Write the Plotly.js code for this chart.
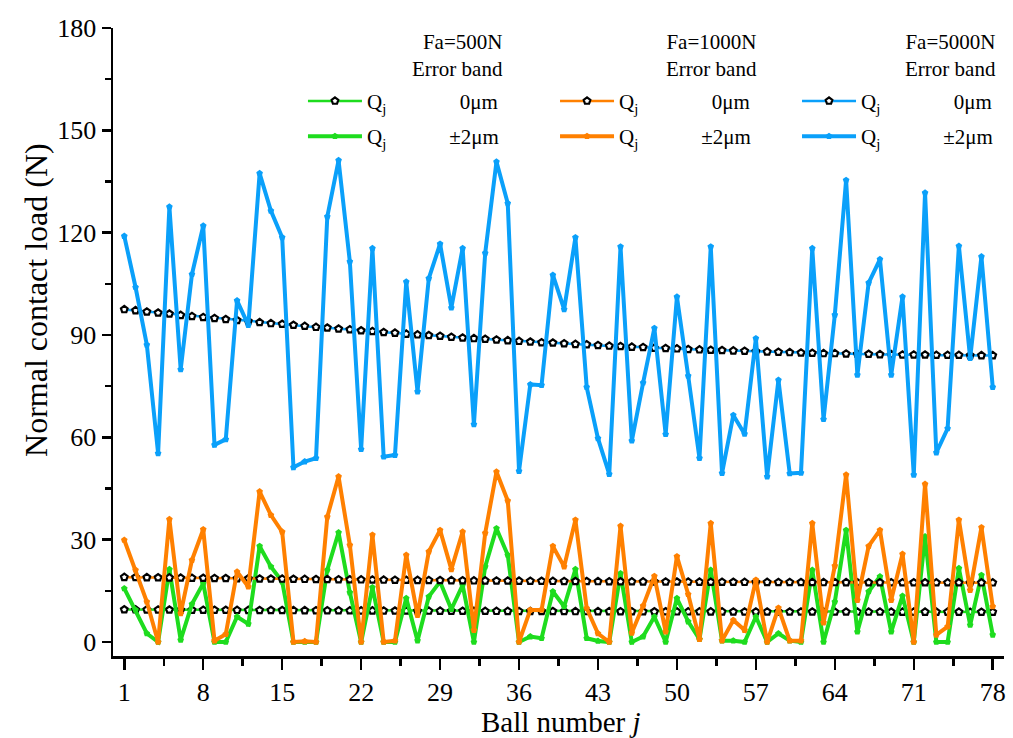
<!DOCTYPE html>
<html>
<head>
<meta charset="utf-8">
<script src="https://cdn.plot.ly/plotly-3.0.1.min.js"></script>
<style>
  html, body { margin: 0; padding: 0; background: #fff; }
  #chart { width: 1013px; height: 738px; }
</style>
</head>
<body>
<div id="chart"></div>
<script>
// Ball index j around the bearing
const balls = [1,2,3,4,5,6,7,8,9,10,11,12,13,14,15,16,17,18,19,20,
  21,22,23,24,25,26,27,28,29,30,31,32,33,34,35,36,37,38,39,40,
  41,42,43,44,45,46,47,48,49,50,51,52,53,54,55,56,57,58,59,60,
  61,62,63,64,65,66,67,68,69,70,71,72,73,74,75,76,77,78];

// Normal contact load Q_j (N), ideal balls (0 µm)
const q500_0 = [9.50,9.49,9.47,9.45,9.43,9.41,9.40,9.38,9.37,9.35,9.34,9.32,9.30,9.29,9.28,9.26,9.25,9.23,9.22,9.21,
  9.20,9.18,9.17,9.15,9.14,9.13,9.12,9.11,9.10,9.08,9.07,9.06,9.05,9.04,9.03,9.02,9.01,9.00,8.99,8.98,
  8.97,8.97,8.96,8.95,8.94,8.93,8.92,8.91,8.91,8.90,8.89,8.89,8.88,8.88,8.87,8.87,8.86,8.86,8.85,8.85,
  8.84,8.84,8.83,8.83,8.83,8.82,8.82,8.82,8.82,8.81,8.81,8.81,8.81,8.81,8.81,8.80,8.80,8.80];
const q1000_0 = [19.00,18.96,18.92,18.88,18.85,18.80,18.76,18.73,18.69,18.66,18.62,18.59,18.55,18.51,18.49,18.45,18.42,18.38,18.36,18.32,
  18.30,18.27,18.24,18.21,18.18,18.15,18.12,18.10,18.08,18.04,18.02,17.99,17.97,17.95,17.92,17.90,17.87,17.85,17.84,17.81,
  17.79,17.78,17.76,17.73,17.72,17.70,17.68,17.66,17.65,17.64,17.61,17.60,17.59,17.58,17.57,17.55,17.54,17.53,17.52,17.51,
  17.49,17.48,17.47,17.47,17.46,17.45,17.45,17.44,17.44,17.42,17.42,17.42,17.41,17.41,17.41,17.40,17.40,17.40];
const q5000_0 = [97.5,97.2,96.8,96.5,96.2,95.8,95.5,95.2,94.9,94.6,94.3,94.0,93.7,93.4,93.2,92.9,92.6,92.3,92.1,91.8,
  91.6,91.3,91.1,90.8,90.6,90.3,90.1,89.9,89.7,89.4,89.2,89.0,88.8,88.6,88.4,88.2,88.0,87.8,87.7,87.5,
  87.3,87.2,87.0,86.8,86.7,86.5,86.4,86.2,86.1,86.0,85.8,85.7,85.6,85.5,85.4,85.3,85.2,85.1,85.0,84.9,
  84.8,84.7,84.6,84.6,84.5,84.4,84.4,84.3,84.3,84.2,84.2,84.2,84.1,84.1,84.1,84.0,84.0,84.0];

// Normal contact load Q_j (N), ball diameter error band ±2 µm
const q500_2 = [15.7,9.4,2.5,0,21.3,0.6,11.1,17.2,0,0,7.4,5.3,28.1,22.1,17.7,0,0,0,21.1,32.1,
  14.5,0,16.0,0,0,12.8,0.4,13.3,17.7,9.6,16.7,0,22.1,33.3,25.5,0,1.6,1.1,14.8,10.4,
  21.3,1.1,0.3,0,20.1,0,1.6,7.4,0,12.8,6.0,0.8,21.1,0.4,0.4,0,7.4,0,2.5,0.4,
  0,21.1,0,11.8,32.8,3.0,14.8,19.2,3.0,13.5,0,30.9,0,0,21.6,5.0,19.6,2.1];
const q1000_2 = [29.9,21.1,11.8,0,36.0,8.4,24.0,33.0,0.4,2.3,20.6,16.2,44.1,37.2,32.3,0,0.2,0,36.7,48.5,
  28.4,0,31.4,0,0.4,25.5,7.9,26.5,32.8,21.3,32.3,3.5,31.9,49.9,41.4,0,9.4,9.4,28.1,22.1,
  35.8,9.9,2.5,0,34.0,2.7,10.6,19.3,3.0,25.1,14.0,0.8,34.8,0.4,6.4,3.5,18.2,0,10.0,0.4,
  0.4,34.8,5.7,22.3,49.0,12.3,28.1,32.8,12.3,25.8,0,46.3,2.1,4.5,35.8,15.2,33.6,10.4];
const q5000_2 = [119.0,104.0,87.1,55.3,127.6,79.9,107.8,122.0,57.8,59.4,100.1,92.9,137.4,126.4,118.6,51.2,52.9,53.9,124.7,141.2,
  111.5,56.5,115.4,54.3,54.8,105.6,73.4,106.6,116.7,98.0,115.4,63.8,114.0,140.8,128.6,50.1,75.5,75.3,107.6,97.5,
  118.6,74.7,59.7,49.2,115.9,59.0,76.0,92.0,60.9,101.2,78.0,53.9,115.9,49.5,66.5,61.0,89.0,48.5,76.8,49.4,
  49.6,115.4,65.3,95.9,135.4,78.3,105.3,112.2,78.3,101.2,49.0,131.7,55.5,62.6,116.1,83.2,113.0,74.7];

// Axis ticks and titles
const xTicks = [1,8,15,22,29,36,43,50,57,64,71,78];
const yTicks = [0,30,60,90,120,150,180];
const xTitle = 'Ball number <i>j</i>';
const yTitle = 'Normal contact load (N)';

// Legend headers and labels
const loadCases = ['Fa=500N', 'Fa=1000N', 'Fa=5000N'];
const bandTitle = 'Error band';
const bandLabels = ['0μm', '±2μm'];

const colors = ['#1EDC1E', '#FF8000', '#0AA0FA'];
const serif = '"Times New Roman", "Liberation Serif", serif';
const nb = n => '\u00a0'.repeat(n);

const ideal = [q500_0, q1000_0, q5000_0];
const banded = [q500_2, q1000_2, q5000_2];
const legendIds = ['legend', 'legend2', 'legend3'];

const traces = [];
for (let k = 0; k < 3; k++) {
  traces.push({
    x: balls, y: ideal[k], type: 'scatter', mode: 'lines+markers',
    name: 'Q<sub>j</sub>' + nb(14) + bandLabels[0],
    legend: legendIds[k], legendgroup: 'g' + k + 'a', legendrank: 1,
    line: { color: colors[k], width: 2.5 },
    marker: { symbol: 'pentagon', size: 7, color: '#ffffff', line: { color: '#000000', width: 2.2 } }
  });
  traces.push({
    x: balls, y: banded[k], type: 'scatter', mode: 'lines+markers',
    name: 'Q<sub>j</sub>' + nb(12) + bandLabels[1],
    legend: legendIds[k], legendgroup: 'g' + k + 'b', legendrank: 2,
    line: { color: colors[k], width: 4 },
    marker: { symbol: 'pentagon', size: 7, color: colors[k] }
  });
}

// Legend blocks (one per axial load), anchored at the start of the line samples
function legendBox(xl) {
  return {
    x: xl, xanchor: 'left', y: 0.916, yanchor: 'top',
    bgcolor: 'rgba(0,0,0,0)', borderwidth: 0,
    font: { family: serif, size: 21, color: '#000' },
    itemwidth: 54, traceorder: 'grouped', tracegroupgap: 5
  };
}

// Right-aligned headers above each legend block
const headerX = [0.4400, 0.7250, 0.9933];
const annotations = loadCases.map((c, i) => ({
  xref: 'paper', yref: 'paper', x: headerX[i], y: 0.956,
  xanchor: 'right', yanchor: 'middle', align: 'right', showarrow: false,
  text: c + '<br>' + bandTitle,
  font: { family: serif, size: 21, color: '#000' }
}));
annotations.push({
  xref: 'paper', yref: 'paper', x: 0.5017, y: -0.105, xanchor: 'center', yanchor: 'middle',
  showarrow: false, text: xTitle, font: { family: serif, size: 29, color: '#000' }
});
annotations.push({
  xref: 'paper', yref: 'paper', x: -0.0864, y: 0.567, xanchor: 'center', yanchor: 'middle',
  textangle: -90, showarrow: false, text: yTitle, font: { family: serif, size: 32, color: '#000' }
});

const axisCommon = {
  showgrid: false, zeroline: false, showline: true, linecolor: '#000', linewidth: 2.5,
  ticks: 'outside', tickwidth: 2.5, tickcolor: '#000',
  tickfont: { family: serif, size: 26, color: '#000' }, mirror: false
};

const layout = {
  width: 1013, height: 738,
  margin: { l: 113, r: 9, t: 28, b: 82 },
  paper_bgcolor: '#fff', plot_bgcolor: '#fff',
  showlegend: true,
  xaxis: Object.assign({}, axisCommon, {
    range: [0, 79], ticklen: 11, ticklabelstandoff: 0,
    tickvals: xTicks, ticktext: xTicks.map(String),
    minor: { tickvals: xTicks.slice(0, -1).map(v => v + 3.5), ticks: 'outside', ticklen: 7, tickwidth: 2.5, tickcolor: '#000' }
  }),
  yaxis: Object.assign({}, axisCommon, {
    range: [-4.1, 180], ticklen: 9, tickvals: yTicks, ticktext: yTicks.map(String),
    minor: { tickvals: yTicks.slice(0, -1).map(v => v + 15), ticks: 'outside', ticklen: 6, tickwidth: 2.5, tickcolor: '#000' }
  }),
  annotations: annotations,
  legend: legendBox(0.2132),
  legend2: legendBox(0.4961),
  legend3: legendBox(0.7677)
};

Plotly.newPlot('chart', traces, layout, { displayModeBar: false, staticPlot: true });
</script>
</body>
</html>
